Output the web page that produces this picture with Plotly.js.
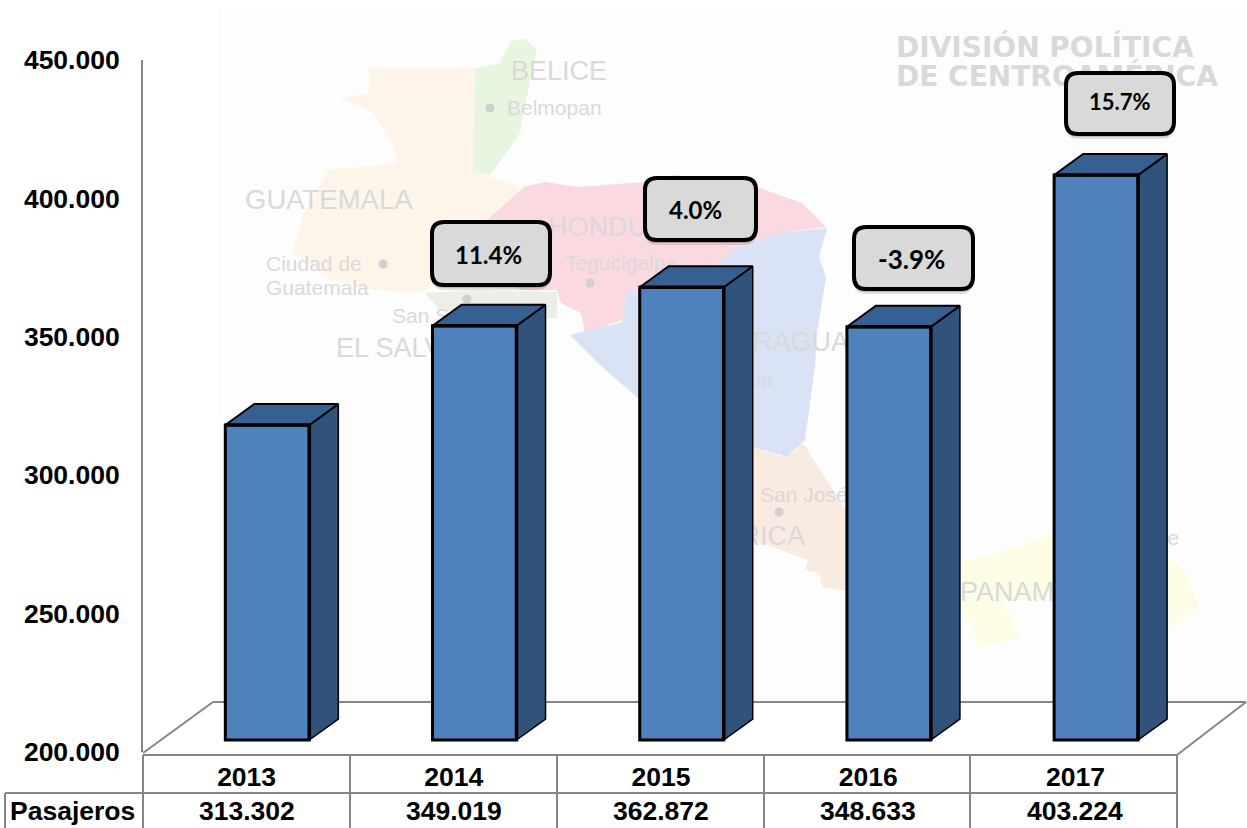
<!DOCTYPE html>
<html><head><meta charset="utf-8">
<script src="https://cdn.plot.ly/plotly-3.0.1.min.js"></script>
<style>html,body{margin:0;padding:0;background:#fff}#chart{width:1247px;height:828px}</style>
</head><body><div id="chart"></div>
<script>
// ---- data ----
const years = ['2013','2014','2015','2016','2017'];
const passengers = [313302,349019,362872,348633,403224];
const growthLabels = ['11.4%','4.0%','-3.9%','15.7%'];
const yTickVals = [200000,250000,300000,350000,400000,450000];
const yTickText = ['200.000','250.000','300.000','350.000','400.000','450.000'];
const rowLabel = 'Pasajeros';

// ---- geometry & style ----
const W=1247,H=828;
const AX_L=143,AX_R=1177,AX_R2=1179,AX_T=60,AX_B=752;
const BAR_T=45,BAR_B=760,BAR_ZERO=740,PX_PER_UNIT=0.00278;
const DEPTH_X=29,DEPTH_Y=21,BAR_W=84,BAR_SHIFT=0.6;
const catPx=(AX_R2-AX_L)/years.length;
const GREY='#868686',FRONT='#4F81BD',TOP='#376092',SIDE='#30527B';
const AR='"Liberation Sans",Arial,sans-serif';
const BOLD={family:AR,size:26.5,color:'#000',weight:700};
const MAPTXT='#D9D9D9';

const fmt=v=>String(v).replace(/\B(?=(\d{3})+$)/g,'.');
const poly=p=>'M'+p.map(q=>q.join(',')).join('L')+'Z';
const fillShape=(p,c)=>({type:'path',xref:'x',yref:'y',layer:'below',path:poly(p),fillcolor:c,line:{width:0}});
const ln=(x0,y0,x1,y1,w=2)=>({type:'line',xref:'x',yref:'y',layer:'below',x0,y0,x1,y1,line:{color:GREY,width:w}});
function rrect(x0,y0,x1,y1,r){
  return `M${x0+r},${y0}L${x1-r},${y0}Q${x1},${y0} ${x1},${y0+r}L${x1},${y1-r}Q${x1},${y1} ${x1-r},${y1}L${x0+r},${y1}Q${x0},${y1} ${x0},${y1-r}L${x0},${y0+r}Q${x0},${y0} ${x0+r},${y0}Z`;
}

// background map (faint, decorative)
const mapShapes=[
 {type:'rect',xref:'x',yref:'y',layer:'below',x0:217,y0:8,x1:1247,y1:702,fillcolor:'#FDFDFD',line:{width:0}},
 fillShape([[369,68],[475,68],[475,173],[492,177],[520,187],[512,203],[492,217],[470,260],[422,293],[373,290],[332,280],[292,253],[304,213],[328,170],[398,163],[394,147],[373,113],[341,98],[369,93]],'#FEF5E9'),
 fillShape([[475,68],[500,63],[510,42],[524,38],[537,50],[524,110],[520,133],[496,167],[490,175],[473,173]],'#E8F6E0'),
 fillShape([[487,220],[524,187],[545,182],[577,187],[643,182],[675,175],[757,187],[802,203],[826,227],[781,233],[736,247],[720,263],[659,283],[626,293],[622,320],[585,333],[581,313],[561,303],[557,290],[520,290],[490,260]],'#FBD9E0'),
 fillShape([[570,335],[622,322],[626,293],[659,283],[720,263],[736,247],[781,233],[827,228],[819,257],[826,277],[817,333],[815,367],[805,440],[787,457],[752,447],[720,430],[640,400],[600,365]],'#DAE3F5'),
 fillShape([[725,450],[752,447],[787,458],[803,443],[846,510],[846,590],[840,590],[822,587],[819,573],[805,570],[808,560],[752,540],[725,500]],'#F9EBE0'),
 fillShape([[960,563],[1031,542],[1049,533],[1100,540],[1167,557],[1185,570],[1199,607],[1174,627],[1120,610],[1060,590],[1040,600],[1003,600],[1021,638],[979,648],[965,613],[950,600]],'#FCFDE4'),
 fillShape([[425,293],[470,290],[557,292],[557,318],[520,320],[440,310]],'#EEEEE8')
];
const frameShapes=[
 ln(AX_L,AX_B+1,213,702),ln(213,702,1246,702),ln(1246,702,AX_R,755),
 ln(AX_L,755,AX_R,755),ln(AX_L,755,AX_L,828),ln(AX_R,755,AX_R,828),
 ln(350,755,350,828),ln(557,755,557,828),ln(764,755,764,828),ln(970,755,970,828),
 ln(5,793,AX_R,793),ln(5,793,5,828)
];
// callouts
const boxes=[[432,222,550,285],[645,178,756,240],[854,227,973,289],[1066,73,1174,134]];
const boxTextAt=[[488.5,254],[695,209],[911,259],[1120,101]];
const boxTextSize=[24,24,26,22];
const calloutShapes=[];
boxes.forEach(b=>{
  [[5,.12],[3,.16]].forEach(s=>calloutShapes.push({type:'path',xref:'x',yref:'y',layer:'above',
    path:rrect(b[0],b[1]+s[0],b[2],b[3]+s[0],12),fillcolor:'rgba(0,0,0,'+s[1]+')',line:{width:0}}));
  calloutShapes.push({type:'path',xref:'x',yref:'y',layer:'above',path:rrect(b[0],b[1],b[2],b[3],12),
    fillcolor:'#D9D9D9',line:{color:'#000',width:4}});
});

// map labels, first traces so that they sit beneath the bars
const mapText=(txt,x,y,size,pos,bold)=>({type:'scatter',mode:'text',xaxis:'x',yaxis:'y',x:[x],y:[y+(bold?3:2)],text:[txt],
  textposition:pos,hoverinfo:'skip',showlegend:false,cliponaxis:false,
  textfont:{family:bold?'"DejaVu Sans"':AR,size,color:MAPTXT,weight:bold?700:400}});
const traces=[
 mapText('BELICE',511,71,27,'middle right'),mapText('Belmopan',507,108,21,'middle right'),
 mapText('GUATEMALA',245,200,27.5,'middle right'),mapText('Ciudad de',266,264,21,'middle right'),
 mapText('Guatemala',266,288,21,'middle right'),mapText('San Salvador',392,316,21,'middle right'),
 mapText('EL SALVADOR',336,348,27,'middle right'),mapText('HONDURAS',548,227,27,'middle right'),
 mapText('Tegucigalpa',565,263,21,'middle right'),mapText('NICARAGUA',849,342,27,'middle left'),
 mapText('Managua',773,380,21,'middle left'),mapText('San José',760,495,21,'middle right'),
 mapText('COSTA RICA',805,536,27,'middle left'),mapText('PANAMÁ',960,592,27,'middle right'),
 mapText('Ciudad de',1179,538,21,'middle left'),
 mapText('DIVISIÓN POLÍTICA',896,47,28,'middle right',true),
 mapText('DE CENTROAMÉRICA',896,76,28,'middle right',true),
 {type:'scatter',mode:'markers',xaxis:'x',yaxis:'y',x:[490,383,590,779,467],y:[108,264,283,512,299],
  marker:{size:9,color:'#D0D0D0'},hoverinfo:'skip',showlegend:false},
 // axis carrier for the chart's own value axis
 {type:'scatter',mode:'none',xaxis:'x2',yaxis:'y2',x:[0],y:[200000],hoverinfo:'skip',showlegend:false},
 // front faces
 {type:'bar',xaxis:'x2',yaxis:'y3',x:years.map((_,i)=>i+BAR_SHIFT),base:passengers.map(()=>200000),
  y:passengers.map(v=>v-200000),width:BAR_W/catPx,marker:{color:FRONT,line:{color:'#000',width:3}},
  hoverinfo:'skip',showlegend:false}
];
const dX=DEPTH_X/catPx,dY=DEPTH_Y/PX_PER_UNIT,hw=BAR_W/catPx/2;
passengers.forEach((v,i)=>{
  const c=i+BAR_SHIFT,L=c-hw,R=c+hw;
  traces.push({type:'scatter',mode:'lines',xaxis:'x2',yaxis:'y3',fill:'toself',fillcolor:SIDE,
    x:[R,R+dX,R+dX,R,R],y:[v,v+dY,200000+dY,200000,v],line:{color:'#000',width:1.5},hoverinfo:'skip',showlegend:false});
  traces.push({type:'scatter',mode:'lines',xaxis:'x2',yaxis:'y3',fill:'toself',fillcolor:TOP,
    x:[L,L+dX,R+dX,R,L],y:[v,v+dY,v+dY,v,v],line:{color:'#000',width:2},hoverinfo:'skip',showlegend:false});
  traces.push({type:'scatter',mode:'lines',xaxis:'x2',yaxis:'y3',
    x:[L,R,R],y:[v,v,200000],line:{color:'#000',width:3.5},hoverinfo:'skip',showlegend:false});
});

const annotations=[];
passengers.forEach((v,i)=>annotations.push({xref:'x2',yref:'y',x:i+0.5,y:811,text:fmt(v),showarrow:false,font:BOLD}));
annotations.push({xref:'x',yref:'y',x:72,y:811,text:rowLabel,showarrow:false,font:BOLD});
growthLabels.forEach((t,i)=>{
  annotations.push({xref:'x',yref:'y',x:boxTextAt[i][0],y:boxTextAt[i][1],text:t,showarrow:false,
    font:{family:'Lato, "Open Sans", sans-serif',size:boxTextSize[i],color:'#000',weight:700}});
});

const layout={
 width:W,height:H,margin:{l:0,r:0,t:0,b:0},paper_bgcolor:'#fff',plot_bgcolor:'rgba(0,0,0,0)',
 showlegend:false,hovermode:false,
 xaxis:{domain:[0,1],range:[0,W],visible:false,fixedrange:true},
 yaxis:{domain:[0,1],range:[H,0],visible:false,fixedrange:true,anchor:'x'},
 xaxis2:{domain:[AX_L/W,AX_R2/W],range:[0,years.length],anchor:'y2',tickmode:'array',
   tickvals:years.map((_,i)=>i+0.5),ticktext:years,ticks:'',ticklabelstandoff:6,tickfont:BOLD,
   showgrid:false,zeroline:false,showline:false,fixedrange:true},
 yaxis2:{domain:[(H-AX_B)/H,(H-AX_T)/H],range:[200000,450000],anchor:'x2',tickmode:'array',
   tickvals:yTickVals,ticktext:yTickText,ticks:'',ticklabelstandoff:16,tickfont:BOLD,
   showgrid:false,zeroline:false,showline:true,linecolor:GREY,linewidth:2,fixedrange:true},
 yaxis3:{domain:[(H-BAR_B)/H,(H-BAR_T)/H],
   range:[200000-(BAR_B-BAR_ZERO)/PX_PER_UNIT,200000+(BAR_ZERO-BAR_T)/PX_PER_UNIT],
   anchor:'x2',visible:false,fixedrange:true},
 shapes:[...mapShapes,...frameShapes,...calloutShapes],
 annotations
};
Plotly.newPlot('chart',traces,layout,{displayModeBar:false,staticPlot:true});
</script></body></html>
